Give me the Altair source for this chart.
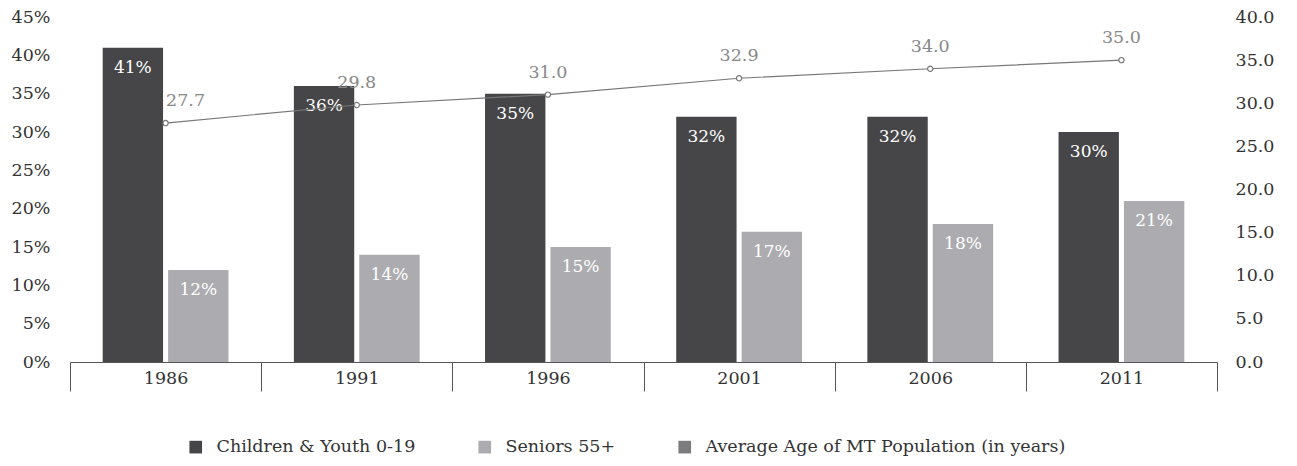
import altair as alt
import pandas as pd

years = ["1986", "1991", "1996", "2001", "2006", "2011"]
children = [41, 36, 35, 32, 32, 30]
seniors = [12, 14, 15, 17, 18, 21]
avg_age = [27.7, 29.8, 31.0, 32.9, 34.0, 35.0]

S1 = "Children & Youth 0-19"
S2 = "Seniors 55+"
S3 = "Average Age of MT Population (in years)"
series_names = [S1, S2, S3]
series_colors = ["#464648", "#acacb0", "#7c7c7e"]

FONT = "DejaVu Serif"
FS = 17.5

rows = []
for y, c, s in zip(years, children, seniors):
    rows.append({"year": y, "series": S1, "value": c, "label": f"{c}%"})
    rows.append({"year": y, "series": S2, "value": s, "label": f"{s}%"})
bars_df = pd.DataFrame(rows)
line_df = pd.DataFrame({"year": years, "age": avg_age, "label": [f"{a:.1f}" for a in avg_age]})

x_enc = alt.X("year:N", sort=years,
              scale=alt.Scale(paddingInner=0, paddingOuter=0),
              axis=alt.Axis(title=None, orient="bottom", domain=True, domainColor="#555555",
                            ticks=True, tickBand="extent", tickSize=29, tickColor="#555555",
                            labelPadding=-22, labelBaseline="top", labelFontSize=FS,
                            labelColor="#333333", labelFont=FONT, labelAngle=0))
xoff = alt.XOffset("series:N", sort=[S1, S2],
                   scale=alt.Scale(paddingInner=0.077, paddingOuter=0.5))
y_left = alt.Y("value:Q", scale=alt.Scale(domain=[0, 45], nice=False),
               axis=alt.Axis(title=None, orient="left", values=list(range(0, 46, 5)),
                             labelExpr="datum.value + '%'", grid=False, domain=False,
                             ticks=False, labelPadding=20, labelFontSize=FS,
                             labelOverlap=False, labelBound=False,
                             labelColor="#333333", labelFont=FONT))

bars = alt.Chart(bars_df).mark_bar().encode(
    x=x_enc, xOffset=xoff, y=y_left,
    color=alt.Color("series:N", scale=alt.Scale(domain=series_names, range=series_colors),
                    legend=alt.Legend(title=None, orient="none", direction="horizontal",
                                      legendX=117, legendY=421,
                                      symbolType="square", symbolSize=160, labelFontSize=FS,
                                      labelFont=FONT, labelColor="#333333", columnPadding=60,
                                      labelLimit=0,
                                      labelOffset=12, symbolStrokeWidth=0)),
)
bar_text = alt.Chart(bars_df).mark_text(color="white", fontSize=17, font=FONT, dy=20,
                                        baseline="middle").encode(
    x=x_enc, xOffset=xoff, y=y_left, text="label:N")

left = alt.layer(bars, bar_text)

y_right = alt.Y("age:Q", scale=alt.Scale(domain=[0, 40], nice=False),
                axis=alt.Axis(title=None, orient="right", values=list(range(0, 41, 5)),
                              format=".1f", grid=False, domain=False, ticks=False,
                              labelOverlap=False, labelBound=False,
                              labelPadding=18, labelFontSize=FS, labelColor="#333333",
                              labelFont=FONT))
line = alt.Chart(line_df).mark_line(color="#777777", strokeWidth=1.2).encode(
    x=x_enc, y=y_right)
points = alt.Chart(line_df).mark_point(filled=True, fill="white", stroke="#777777",
                                       strokeWidth=1.2, size=28, opacity=1).encode(
    x=x_enc, y=y_right)
line_text_first = alt.Chart(line_df).transform_filter(alt.datum.year == years[0]).mark_text(
    color="#888888", fontSize=FS, font=FONT, dy=-22, dx=20, baseline="middle").encode(
    x=x_enc, y=y_right, text="label:N")
line_text_rest = alt.Chart(line_df).transform_filter(alt.datum.year != years[0]).mark_text(
    color="#888888", fontSize=FS, font=FONT, dy=-22, baseline="middle").encode(
    x=x_enc, y=y_right, text="label:N")
right = alt.layer(line, points, line_text_first, line_text_rest)

chart = alt.layer(left, right).resolve_scale(y="independent").properties(
    width=1147, height=345,
    autosize=alt.AutoSizeParams(type="none"),
    padding={"left": 62, "top": 9, "right": 72, "bottom": 96},
).configure_view(stroke=None).configure_legend(labelFont=FONT)

chart.save("out.html", embed_options={"renderer": "svg", "actions": False})
